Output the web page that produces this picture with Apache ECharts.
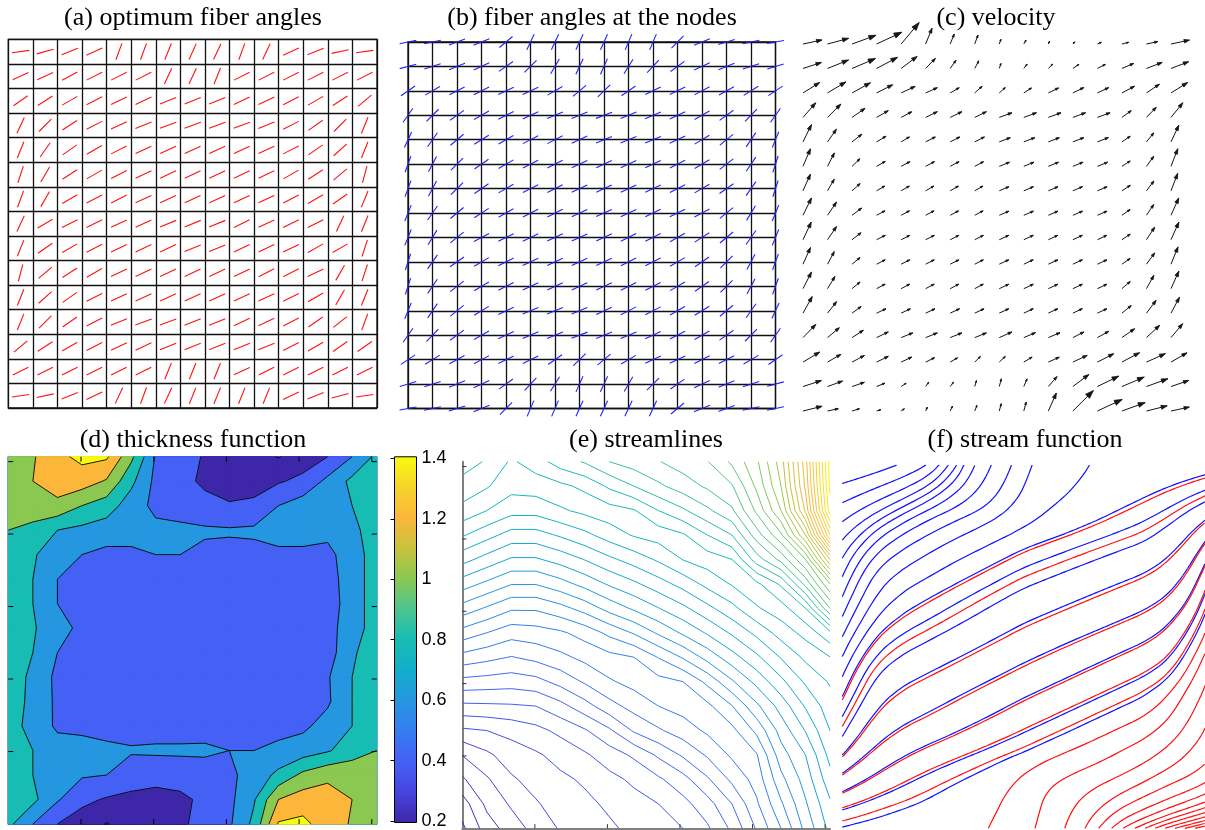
<!DOCTYPE html>
<html><head><meta charset="utf-8">
<script src="https://cdn.jsdelivr.net/npm/echarts@6/dist/echarts.min.js"></script>
<style>html,body{margin:0;padding:0;background:#fff}#chart{width:1205px;height:830px}</style>
</head><body><div id="chart"></div>
<script>
// ================= DATA =================
const titleTexts = ['(a) optimum fiber angles','(b) fiber angles at the nodes','(c) velocity',
  '(d) thickness function','(e) streamlines','(f) stream function'];

// (a) optimum fiber angle per element (deg), rows top -> bottom
const optAngles = [
 [8,15,22,25,70,70,68,66,65,70,65,25,22,12,8],
 [25,25,28,27,27,27,65,65,68,27,27,27,27,27,27],
 [35,33,30,27,25,25,22,22,22,25,25,27,30,33,40],
 [65,45,33,27,25,22,20,20,20,20,22,27,35,45,68],
 [68,55,35,30,27,25,25,25,25,25,25,27,35,42,68],
 [72,60,33,30,27,25,25,25,25,25,25,30,33,40,75],
 [70,60,30,27,27,25,25,25,25,25,25,27,30,35,68],
 [65,30,27,27,25,25,22,22,22,27,25,27,27,65,68],
 [68,35,30,27,25,25,25,22,22,25,25,25,30,30,72],
 [75,40,33,30,25,25,25,25,25,25,27,27,25,60,72],
 [68,42,35,27,25,25,25,25,25,25,25,27,30,60,68],
 [68,45,35,27,22,20,20,22,22,25,25,27,35,38,70],
 [40,33,30,27,25,25,22,22,22,22,22,27,30,35,35],
 [27,27,27,27,27,27,68,68,68,25,27,27,27,27,27],
 [8,12,22,25,65,70,65,68,68,68,68,25,22,15,8]
];

// (b) fiber angle at nodes (deg), rows top -> bottom
const nodeAngles = [
 [12,12,20,22,40,65,65,65,66,67,67,45,23,17,12,10],
 [15,18,22,25,35,45,60,65,66,58,47,36,25,22,18,17],
 [35,30,27,27,25,25,30,40,44,35,26,26,28,29,32,34],
 [55,45,35,30,27,25,22,22,21,22,23,25,30,36,46,55],
 [65,55,40,32,30,27,27,25,23,23,23,25,31,39,56,68],
 [70,62,45,35,30,27,27,25,25,25,25,27,31,38,56,72],
 [70,62,45,35,30,27,27,25,25,25,25,27,30,35,55,72],
 [68,55,40,33,30,27,27,25,24,25,26,26,28,39,59,68],
 [68,59,39,28,26,26,25,24,25,27,27,30,33,40,55,68],
 [72,55,35,30,27,25,25,25,25,27,27,30,35,45,62,70],
 [72,56,38,31,27,25,25,25,25,27,27,30,35,45,62,70],
 [68,56,39,31,25,23,23,23,25,27,27,30,32,40,55,65],
 [55,46,36,30,25,23,22,21,22,22,25,27,30,35,45,55],
 [34,32,29,28,26,26,35,44,40,30,25,25,27,27,30,35],
 [17,18,22,25,36,47,58,66,65,60,45,35,25,22,18,15],
 [10,12,17,23,45,67,67,66,65,65,65,40,22,20,12,12]
];

// (c) velocity: direction (deg) and magnitude, rows top -> bottom
const velAngle = [
 [12,15,20,25,50,68,68,70,70,60,66,49,23,14,12,12],
 [18,22,23,28,37,46,55,62,71,52,45,34,27,23,21,21],
 [32,31,29,27,25,24,30,42,42,33,26,26,25,28,34,32],
 [49,45,35,30,28,26,26,26,20,20,20,20,20,36,46,51],
 [64,55,38,31,31,27,27,27,21,21,21,21,21,34,51,65],
 [67,63,44,30,28,28,28,28,22,22,22,22,22,33,54,69],
 [66,60,42,30,30,30,30,30,23,23,23,23,23,33,53,69],
 [64,56,37,28,28,28,28,28,23,23,23,23,23,35,56,66],
 [65,56,38,27,27,27,27,27,25,25,25,25,25,34,57,66],
 [66,62,40,27,27,27,27,27,25,25,25,25,25,35,54,68],
 [63,59,40,28,28,28,28,28,25,25,25,25,25,41,61,66],
 [61,52,36,25,25,25,25,25,25,25,25,25,25,39,53,62],
 [46,40,33,26,22,22,22,22,24,23,23,27,29,35,43,50],
 [31,30,28,26,25,26,30,45,43,31,24,25,27,28,24,30],
 [18,20,19,22,34,55,53,74,75,67,49,37,26,23,20,19],
 [14,12,17,17,35,67,65,68,75,75,66,45,25,20,14,12]
];
const velMagnitude = [
 [19.4,21.8,25.5,27.9,28,17,10.8,9.6,5,4.6,3.3,3,4.3,6.9,11.6,18.8],
 [19.3,22.6,25.4,23.7,20,14,10,8.7,5.3,5.5,6.1,7.2,9,12.7,16.8,18.9],
 [19.6,21.4,21,18,15.5,12.8,10.4,10,8,9.2,11.5,12.2,12.5,14.3,15.6,19.6],
 [19.4,18.8,15.8,13.5,12,13,13,13,13.5,13.5,13.5,13.5,13.5,11.5,14,18.8],
 [19.2,15.5,12.3,11,9.7,10.9,10.9,10.9,11.8,11.8,11.8,11.8,11.8,10,11.6,18.4],
 [19,15,11,10,10,10,10,10,11,11,11,11,11,9.9,12.4,18.9],
 [18.2,13.4,10.8,9.5,9.5,9.5,9.5,9.5,10.5,10.5,10.5,10.5,10.5,10,12.4,18.6],
 [19.2,16,12,9.5,9.5,9.5,9.5,9.5,10.5,10.5,10.5,10.5,10.5,10,13,19],
 [19.5,16,11.4,9.7,9.7,9.7,9.7,9.7,10.5,10.5,10.5,10.5,10.5,10,15,19.3],
 [18.2,14.3,10.4,9.7,9.7,9.7,9.7,9.7,10.5,10.5,10.5,10.5,10.5,10,14,18.7],
 [18.6,14.3,10.4,9.7,9.7,9.7,9.7,9.7,10.5,10.5,10.5,10.5,10.5,11,15.2,19.3],
 [19,14.7,11.2,10.3,10.3,10.3,10.3,10.3,10.5,10.5,10.5,10.5,10.5,12,16,18],
 [18.4,15.4,13.5,13,12.6,12.6,12.6,12.6,13.9,12.7,12.7,12.4,13,15.5,18,18.2],
 [19.5,15.4,14,13,11.8,10,8.5,8,8.3,9.7,12,15.8,18.3,20,20.7,18.5],
 [19.3,16,13,9,6,5.3,5.5,6.2,8,8.4,13.2,20,23.7,24.2,22.7,18.7],
 [19.6,11,7.7,4.5,4,4.3,5.5,6.1,7.6,9.3,19.7,29,27.3,24.7,21.3,18.7]
];

// (d) thickness at nodes, rows top -> bottom
const thickness = [
 [1.1,1.18,1.35,1.45,1.43,1.05,0.58,0.5,0.38,0.3,0.28,0.19,0.3,0.4,0.6,0.85],
 [1.12,1.2,1.3,1.3,1.18,0.85,0.55,0.45,0.37,0.3,0.3,0.38,0.45,0.65,0.85,0.9],
 [1.08,1.1,1.15,1.0,0.9,0.7,0.55,0.5,0.45,0.42,0.45,0.6,0.7,0.7,0.8,0.9],
 [1.0,0.95,0.8,0.75,0.7,0.7,0.65,0.65,0.63,0.62,0.63,0.7,0.7,0.65,0.75,0.9],
 [0.9,0.82,0.7,0.6,0.55,0.55,0.6,0.6,0.55,0.55,0.55,0.55,0.55,0.55,0.7,0.9],
 [0.9,0.8,0.6,0.5,0.5,0.5,0.5,0.5,0.5,0.5,0.5,0.5,0.5,0.52,0.7,0.9],
 [0.9,0.8,0.6,0.5,0.5,0.5,0.5,0.5,0.5,0.5,0.5,0.5,0.5,0.5,0.7,0.9],
 [0.9,0.82,0.68,0.55,0.5,0.5,0.5,0.5,0.5,0.5,0.5,0.5,0.5,0.52,0.72,0.88],
 [0.9,0.8,0.6,0.5,0.5,0.5,0.5,0.5,0.5,0.5,0.5,0.5,0.5,0.5,0.78,0.88],
 [0.9,0.76,0.55,0.5,0.5,0.5,0.5,0.5,0.5,0.5,0.5,0.5,0.5,0.58,0.8,0.88],
 [0.9,0.75,0.56,0.5,0.5,0.5,0.5,0.5,0.5,0.5,0.5,0.5,0.5,0.57,0.8,0.88],
 [0.9,0.72,0.57,0.55,0.52,0.52,0.52,0.52,0.53,0.55,0.52,0.53,0.56,0.68,0.8,0.9],
 [0.9,0.8,0.68,0.68,0.65,0.62,0.63,0.63,0.63,0.6,0.6,0.65,0.7,0.78,0.9,1.0],
 [0.9,0.8,0.7,0.62,0.6,0.5,0.48,0.5,0.52,0.56,0.68,0.85,1.05,1.15,1.15,1.1],
 [0.88,0.85,0.62,0.45,0.38,0.35,0.32,0.35,0.45,0.55,0.78,1.2,1.3,1.3,1.2,1.1],
 [0.85,0.6,0.4,0.3,0.19,0.28,0.3,0.35,0.5,0.57,0.85,1.42,1.45,1.3,1.18,1.05]
];
const thickLevels = [0.2,0.4,0.6,0.8,1.0,1.2,1.4];

// (e) scalar field whose iso-lines are drawn, rows top -> bottom
const streamField = [
 [23.45,22.9,21.85,22.5,23.5,24.1,25.0,25.47,25.95,26.46,26.95,28.2,29.8,32.5,37.6,45.5],
 [22.63,22.1,21.35,21.47,21.75,22.25,23.18,24.0,24.8,25.5,26.17,26.9,29.2,32.0,37.2,45.2],
 [21.68,21.0,20.35,20.35,20.85,21.26,21.59,21.91,23.0,23.83,24.8,25.83,28.2,31.0,36.2,44.6],
 [20.12,19.36,18.6,18.6,19.13,19.74,20.47,21.1,21.42,21.87,23.0,24.0,26.5,28.8,33.0,41.0],
 [18.36,17.6,16.87,16.87,17.39,18.04,18.78,19.43,20.16,21.03,21.48,22.0,24.5,26.3,29.0,35.0],
 [16.48,15.77,15.05,15.05,15.61,16.34,17.14,17.8,18.56,19.36,20.31,21.09,21.76,23.17,26.3,30.0],
 [14.6,13.87,13.14,13.14,13.66,14.4,15.37,16.16,16.96,17.76,18.72,19.69,20.88,21.55,23.0,27.0],
 [12.6,12.0,11.41,11.56,11.84,12.4,13.26,14.1,15.16,16.16,17.12,18.15,19.26,20.43,21.33,22.75],
 [10.64,10.3,9.95,10.29,10.75,11.27,11.69,12.0,13.05,14.1,15.37,16.6,17.78,19.07,20.22,20.98],
 [8.68,8.57,8.45,8.66,9.33,10.13,10.88,11.33,11.67,12.0,13.26,14.86,16.3,17.73,19.16,20.11],
 [6.77,6.82,6.88,7.0,7.67,8.6,9.63,10.38,11.0,11.38,11.76,12.95,14.77,16.4,18.1,19.56],
 [4.81,5.0,5.31,5.7,6.25,6.89,7.83,9.13,9.86,10.5,11.18,11.72,13.23,15.4,17.05,19.0],
 [3.03,3.8,4.5,4.86,5.33,5.86,6.5,7.17,8.17,9.14,10.13,11.17,11.9,14.55,16.0,18.33],
 [1.86,2.87,3.86,4.38,4.8,5.14,5.72,6.18,6.83,7.63,8.86,10.22,11.4,13.7,15.43,17.62],
 [0.5,2.25,3.14,3.9,4.45,4.78,5.17,5.66,6.0,6.67,7.6,9.0,10.83,12.85,14.87,16.83],
 [-0.2,1.5,2.5,3.35,4.1,4.5,4.85,5.24,5.6,6.0,6.85,8.2,10.1,12.0,14.3,16.3]
];

// (f) stream line seed points (node units; x from left, y from bottom)
const blueSeedsLeftY = [14.24,13.44,12.66,11.9,11.15,10.39,9.56,8.74,7.91,7.09,6.26,5.44,4.61,3.79,3.03,2.27,1.51,0.76,0.05];
const redSeedsLeftY = [5.3,4.2,2.95,2.2,1.45,0.85,0.3];
const redSeedsBottomX = [6.04,7.97,9.2,10.04,10.6,11.14,11.62,12.1,12.52,12.93,13.35,13.76,14.17,14.59];

// axis tick positions (node units) for panels (d) and (e)
const boxTicks = [2.96,5.92,8.88,11.84,14.8];

// ================= RENDERING =================
const N = 15;
const parulaStops = [[0,'#3E26A8'],[0.0833,'#4744E0'],[0.1667,'#4561F5'],[0.25,'#367CF2'],[0.3333,'#2596E0'],
 [0.4167,'#12AECB'],[0.5,'#17BDB3'],[0.5833,'#4CC590'],[0.6667,'#8AC852'],[0.75,'#C9C23C'],
 [0.8333,'#FCB73A'],[0.9167,'#F6D42B'],[1,'#F9FB0E']];
function hex2rgb(h){return [parseInt(h.substr(1,2),16),parseInt(h.substr(3,2),16),parseInt(h.substr(5,2),16)];}
function parula(t){
  t=Math.max(0,Math.min(1,t));
  for(let i=1;i<parulaStops.length;i++){
    if(t<=parulaStops[i][0]){
      const a=parulaStops[i-1],b=parulaStops[i];const f=(t-a[0])/(b[0]-a[0]);
      const ca=hex2rgb(a[1]),cb=hex2rgb(b[1]);
      return 'rgb('+ca.map((v,k)=>Math.round(v+(cb[k]-v)*f)).join(',')+')';
    }
  }
  return parulaStops[parulaStops.length-1][1];
}
const bandColors = ['#3E26A8','#3E26A8','#4561F5','#2596E0','#17BDB3','#8AC852','#FCB73A','#F9FB0E'];

const grids = [
  {left:8.3, top:39.3, width:368.7, height:368.7},   // a
  {left:408, top:42, width:367.5, height:366.5},     // b
  {left:803, top:44, width:368, height:367},         // c
  {left:8.3, top:456.7, width:368.4, height:367.3},  // d
  {left:394.5, top:458.3, width:22, height:363.4},   // colorbar
  {left:462.3, top:461.7, width:367.7, height:366.6},// e
  {left:842.3, top:465, width:362.7, height:363.3}   // f
];
const titlePos = [[193,18],[592,18],[996,18],[193,440],[646,440],[1025,440]];

const hidden = {axisLine:{show:false},axisTick:{show:false},axisLabel:{show:false},splitLine:{show:false}};
function ax(gi, extra){return Object.assign({gridIndex:gi,type:'value',min:0,max:N},JSON.parse(JSON.stringify(hidden)),extra||{});}
const gridLinesStyle = {show:true,lineStyle:{color:'#111',width:1.3}};

const xAxes=[], yAxes=[];
xAxes.push(ax(0,{interval:1,splitLine:gridLinesStyle}));
yAxes.push(ax(0,{interval:1,splitLine:gridLinesStyle}));
xAxes.push(ax(1,{interval:1,splitLine:gridLinesStyle}));
yAxes.push(ax(1,{interval:1,splitLine:gridLinesStyle}));
xAxes.push(ax(2)); yAxes.push(ax(2));
xAxes.push(ax(3,{position:'bottom',axisLine:{show:true,lineStyle:{color:'#222',width:1}}}));
yAxes.push(ax(3,{position:'left',axisLine:{show:true,lineStyle:{color:'#555',width:2}}}));
xAxes.push(Object.assign({gridIndex:4,type:'value',min:0,max:1},JSON.parse(JSON.stringify(hidden))));
yAxes.push({gridIndex:4,type:'value',min:0.2,max:1.4,interval:0.2,position:'right',
  axisLine:{show:false},splitLine:{show:false},
  axisTick:{show:true,inside:true,length:4,lineStyle:{color:'#000',width:1}},
  axisLabel:{show:true,margin:5,fontFamily:'Liberation Sans',fontSize:18,color:'#000',showMinLabel:true,showMaxLabel:true,
    formatter:v=>String(+(+v).toFixed(1))}});
xAxes.push(ax(5,{position:'bottom',axisLine:{show:true,lineStyle:{color:'#808080',width:2}}}));
yAxes.push(ax(5,{position:'left',axisLine:{show:true,lineStyle:{color:'#808080',width:2}}}));
xAxes.push(ax(6)); yAxes.push(ax(6));
xAxes.push(ax(3,{position:'top',axisLine:{show:true,lineStyle:{color:'#000',width:1}}}));
yAxes.push(ax(3,{position:'right',axisLine:{show:true,lineStyle:{color:'#000',width:1}}}));

const series=[];
// ---- (a) segments ----
const aData=[]; optAngles.forEach((row,r)=>row.forEach((a,c)=>aData.push([c,r,a])));
series.push({type:'custom',xAxisIndex:0,yAxisIndex:0,data:aData,silent:true,z:5,
  renderItem:(p,api)=>{const c=api.value(0),r=api.value(1),a=api.value(2)*Math.PI/180;
    const cx=c+0.5,cy=N-r-0.5,h=0.355;
    const p1=api.coord([cx-h*Math.cos(a),cy-h*Math.sin(a)]),p2=api.coord([cx+h*Math.cos(a),cy+h*Math.sin(a)]);
    return {type:'line',shape:{x1:p1[0],y1:p1[1],x2:p2[0],y2:p2[1]},style:{stroke:'#ff1010',lineWidth:1.1}};}});
// ---- (b) segments ----
const bData=[]; nodeAngles.forEach((row,r)=>row.forEach((a,c)=>bData.push([c,r,a])));
series.push({type:'custom',xAxisIndex:1,yAxisIndex:1,data:bData,silent:true,z:5,clip:false,
  renderItem:(p,api)=>{const c=api.value(0),r=api.value(1),a=api.value(2)*Math.PI/180;
    const cx=c,cy=N-r,h=0.35;
    const p1=api.coord([cx-h*Math.cos(a),cy-h*Math.sin(a)]),p2=api.coord([cx+h*Math.cos(a),cy+h*Math.sin(a)]);
    return {type:'line',shape:{x1:p1[0],y1:p1[1],x2:p2[0],y2:p2[1]},style:{stroke:'#2020ff',lineWidth:1.1}};}});
// ---- (c) quiver ----
const QS = 1/24.5;
const cData=[]; velAngle.forEach((row,r)=>row.forEach((a,c)=>cData.push([c,r,a,velMagnitude[r][c]])));
series.push({type:'custom',xAxisIndex:2,yAxisIndex:2,data:cData,silent:true,z:5,clip:false,
  renderItem:(p,api)=>{const c=api.value(0),r=api.value(1),a=api.value(2)*Math.PI/180,m=api.value(3)*QS;
    const x0=c,y0=N-r,x1=x0+m*Math.cos(a),y1=y0+m*Math.sin(a);
    const hl=Math.max(0.3*m,0.08),ha=0.33;
    const P=q=>api.coord(q);
    const t0=P([x0,y0]),t1=P([x1,y1]);
    const h1=P([x1-hl*Math.cos(a-ha),y1-hl*Math.sin(a-ha)]),h2=P([x1-hl*Math.cos(a+ha),y1-hl*Math.sin(a+ha)]);
    return {type:'group',children:[
      {type:'line',shape:{x1:t0[0],y1:t0[1],x2:t1[0],y2:t1[1]},style:{stroke:'#151515',lineWidth:1}},
      {type:'polygon',shape:{points:[h1,t1,h2]},style:{stroke:'#151515',lineWidth:0.8,fill:'#151515'}}
    ]};}});

// ---- contour helpers ----
function clipPoly(poly,L){const out=[];const n=poly.length;
  for(let i=0;i<n;i++){const P=poly[i],Q=poly[(i+1)%n];const pin=P[2]>=L,qin=Q[2]>=L;
    if(pin)out.push(P);
    if(pin!==qin){const t=(L-P[2])/(Q[2]-P[2]);out.push([P[0]+t*(Q[0]-P[0]),P[1]+t*(Q[1]-P[1]),L]);}}
  return out;}
function cellCorners(F,c,r){return [[c,N-r-1,F[r+1][c]],[c+1,N-r-1,F[r+1][c+1]],[c+1,N-r,F[r][c+1]],[c,N-r,F[r][c]]];}
function cellSegs(q,L){
  const ab=q.map(p=>p[2]>=L);const cr=[];
  for(let i=0;i<4;i++){const P=q[i],Q=q[(i+1)%4];
    if(ab[i]!==ab[(i+1)%4]){const t=(L-P[2])/(Q[2]-P[2]);cr[i]=[P[0]+t*(Q[0]-P[0]),P[1]+t*(Q[1]-P[1])];}}
  const idx=[0,1,2,3].filter(i=>cr[i]);
  if(idx.length===2)return [[cr[idx[0]],cr[idx[1]]]];
  if(idx.length===4){const ctr=(q[0][2]+q[1][2]+q[2][2]+q[3][2])/4;
    if((ctr>=L)===ab[0])return [[cr[0],cr[1]],[cr[2],cr[3]]];
    return [[cr[3],cr[0]],[cr[1],cr[2]]];}
  return [];}
const cells=[];for(let r=0;r<N;r++)for(let c=0;c<N;c++)cells.push([c,r]);

// ---- (d) filled contour: one series per band so that seams are covered ----
const fillLevels=[-Infinity].concat(thickLevels);
fillLevels.forEach((L,k)=>{
  const col=bandColors[k];
  series.push({type:'custom',xAxisIndex:3,yAxisIndex:3,data:cells,silent:true,z:2,zlevel:0,
    renderItem:(p,api)=>{const c=api.value(0),r=api.value(1);const q=cellCorners(thickness,c,r);
      const poly=(L===-Infinity)?q:clipPoly(q,L);
      if(poly.length<3)return null;
      return {type:'polygon',z2:k,shape:{points:poly.map(v=>api.coord([v[0],v[1]]))},style:{fill:col,stroke:col,lineWidth:1}};}});
});
series.push({type:'custom',xAxisIndex:3,yAxisIndex:3,data:cells,silent:true,z:3,
  renderItem:(p,api)=>{const c=api.value(0),r=api.value(1);const q=cellCorners(thickness,c,r);const ch=[];
    thickLevels.forEach(L=>{cellSegs(q,L).forEach(s=>{const a=api.coord(s[0]),b=api.coord(s[1]);
      ch.push({type:'line',shape:{x1:a[0],y1:a[1],x2:b[0],y2:b[1]},style:{stroke:'#000',lineWidth:0.9}});});});
    return {type:'group',children:ch};}});

// ---- box ticks for (d) (all four sides) and (e) (left & bottom) ----
function tickSeries(xi,yi,sides,len,color){
  const data=[];boxTicks.forEach(t=>sides.forEach(s=>data.push([t,s])));
  return {type:'custom',xAxisIndex:xi,yAxisIndex:yi,data:data,silent:true,z:6,clip:false,
    renderItem:(p,api)=>{const t=api.value(0),s=api.value(1);let a,b;
      if(s===0){a=[t,0];b=[t,len];} else if(s===1){a=[0,t];b=[len,t];}
      else if(s===2){a=[t,N];b=[t,N-len];} else {a=[N,t];b=[N-len,t];}
      const pa=api.coord(a),pb=api.coord(b);
      return {type:'line',shape:{x1:pa[0],y1:pa[1],x2:pb[0],y2:pb[1]},style:{stroke:color,lineWidth:1}};}};}
series.push(tickSeries(3,3,[0,1,2,3],0.2,'#000'));
series.push(tickSeries(5,5,[0,1],0.17,'#333'));

// ---- colorbar ----
series.push({type:'custom',xAxisIndex:4,yAxisIndex:4,data:[[0,0.8]],silent:true,z:3,clip:false,
  renderItem:(p,api)=>{const a=api.coord([0,0.195]),b=api.coord([1,1.405]);
    const stops=parulaStops.map(s=>({offset:s[0],color:s[1]}));
    return {type:'rect',shape:{x:a[0],y:b[1],width:b[0]-a[0],height:a[1]-b[1]},
      style:{fill:new echarts.graphic.LinearGradient(0,1,0,0,stops),stroke:'#000',lineWidth:1}};}});

// ---- (e) iso-lines ----
let fmin=Infinity,fmax=-Infinity;streamField.forEach(r=>r.forEach(v=>{fmin=Math.min(fmin,v);fmax=Math.max(fmax,v);}));
const eLevels=[];for(let L=Math.ceil(fmin);L<=Math.floor(fmax);L++)eLevels.push(L);
series.push({type:'custom',xAxisIndex:5,yAxisIndex:5,data:cells,silent:true,z:3,
  renderItem:(p,api)=>{const c=api.value(0),r=api.value(1);const q=cellCorners(streamField,c,r);const ch=[];
    const lo=Math.min(...q.map(v=>v[2])),hi=Math.max(...q.map(v=>v[2]));
    eLevels.forEach(L=>{if(L<lo||L>hi)return;const col=parula((L-fmin)/(fmax-fmin));
      cellSegs(q,L).forEach(s=>{const a=api.coord(s[0]),b=api.coord(s[1]);
        ch.push({type:'line',shape:{x1:a[0],y1:a[1],x2:b[0],y2:b[1]},style:{stroke:col,lineWidth:1}});});});
    return {type:'group',children:ch};}});

// ---- (f) stream lines traced through the velocity data ----
const U=velAngle.map((row,r)=>row.map((a,c)=>velMagnitude[r][c]*Math.cos(a*Math.PI/180)));
const V=velAngle.map((row,r)=>row.map((a,c)=>velMagnitude[r][c]*Math.sin(a*Math.PI/180)));
function velAt(x,y){const cx=Math.min(Math.max(x,0),N),ry=Math.min(Math.max(N-y,0),N);
  const c0=Math.min(Math.floor(cx),N-1),r0=Math.min(Math.floor(ry),N-1),fx=cx-c0,fy=ry-r0;
  const bl=(A)=>A[r0][c0]*(1-fx)*(1-fy)+A[r0][c0+1]*fx*(1-fy)+A[r0+1][c0]*(1-fx)*fy+A[r0+1][c0+1]*fx*fy;
  return [bl(U),bl(V)];}
function trace(x,y){const pts=[[x,y]];const h=0.03;
  for(let i=0;i<4000;i++){let [u,v]=velAt(x,y);let m=Math.hypot(u,v);if(m<1e-9)break;
    const xm=x+0.5*h*u/m,ym=y+0.5*h*v/m;[u,v]=velAt(xm,ym);m=Math.hypot(u,v);
    x+=h*u/m;y+=h*v/m;
    if(x<0||x>N||y<0||y>N){pts.push([Math.min(Math.max(x,0),N),Math.min(Math.max(y,0),N)]);break;}
    if(i%3===0)pts.push([x,y]);}
  return pts;}
function addLine(pts,color){series.push({type:'line',xAxisIndex:6,yAxisIndex:6,data:pts,showSymbol:false,symbol:'none',
  silent:true,z:4,lineStyle:{color:color,width:1.2},animation:false});}
blueSeedsLeftY.forEach(y=>addLine(trace(0,y),'#1010ff'));
redSeedsLeftY.forEach(y=>addLine(trace(0,y),'#ff1010'));
redSeedsBottomX.forEach(x=>addLine(trace(x,0),'#ff1010'));

const graphics = titleTexts.map((t,i)=>({type:'text',x:titlePos[i][0],y:titlePos[i][1],silent:true,
  style:{text:t,font:'26px "Liberation Serif"',fill:'#000',textAlign:'center',textVerticalAlign:'middle',align:'center',verticalAlign:'middle'}}));

const chart=echarts.init(document.getElementById('chart'),null,{renderer:'canvas'});
chart.setOption({
  animation:false,backgroundColor:'#fff',
  grid:grids.map((g,i)=>Object.assign({containLabel:false,show:i<=1,borderColor:'#111',borderWidth:1.3,backgroundColor:'transparent'},g)),
  xAxis:xAxes,yAxis:yAxes,series:series,graphic:graphics
});
</script></body></html>
